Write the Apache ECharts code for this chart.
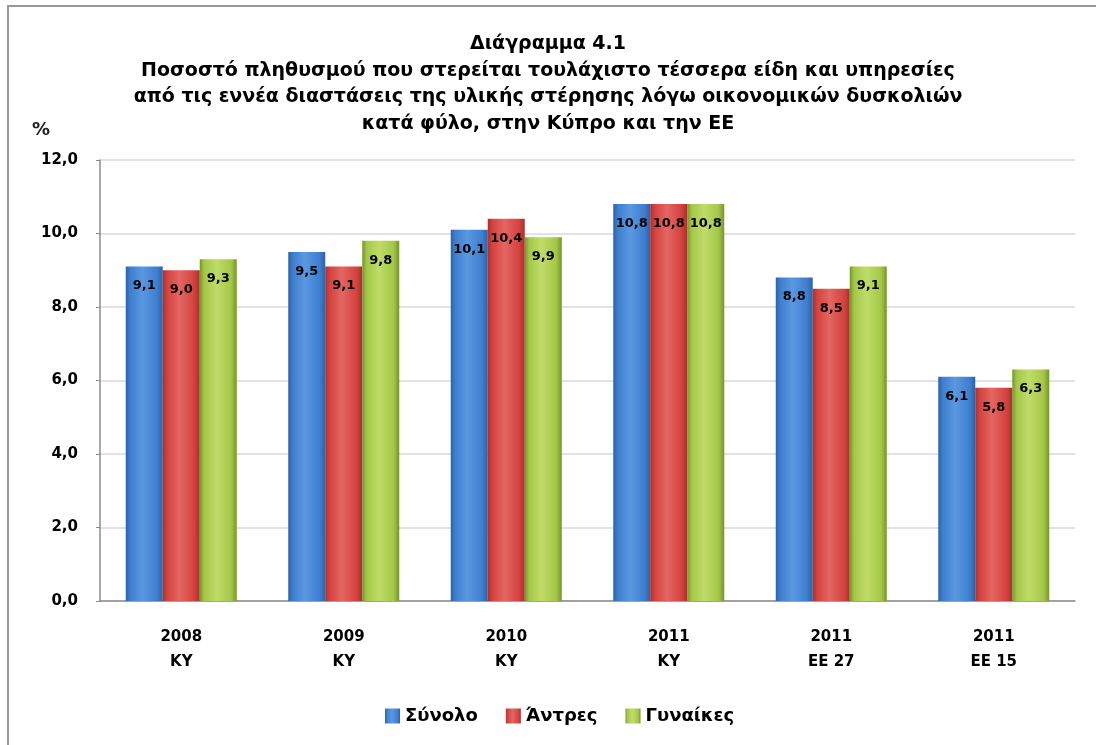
<!DOCTYPE html>
<html>
<head>
<meta charset="utf-8">
<script src="https://cdn.jsdelivr.net/npm/echarts@6/dist/echarts.min.js"></script>
<style>
  html, body { margin: 0; padding: 0; background: #fff; }
  #chart { width: 1096px; height: 745px; }
</style>
</head>
<body>
<div id="chart"></div>
<script>
// κατηγορίες (έτος / περιοχή)
var categories = ['2008\nΚΥ', '2009\nΚΥ', '2010\nΚΥ', '2011\nΚΥ', '2011\nΕΕ 27', '2011\nΕΕ 15'];
var synolo = [9.1, 9.5, 10.1, 10.8, 8.8, 6.1];
var antres = [9.0, 9.1, 10.4, 10.8, 8.5, 5.8];
var gynaikes = [9.3, 9.8, 9.9, 10.8, 9.1, 6.3];
var seriesNames = ['Σύνολο', 'Άντρες', 'Γυναίκες'];

var titleText = 'Διάγραμμα 4.1\nΠοσοστό πληθυσμού που στερείται τουλάχιστο τέσσερα είδη και υπηρεσίες\n' +
	'από τις εννέα διαστάσεις της υλικής στέρησης λόγω οικονομικών δυσκολιών\nκατά φύλο, στην Κύπρο και την ΕΕ';

// οριζόντια διαβάθμιση για εφέ κυλίνδρου
function cyl(dark, mid, light) {
	return new echarts.graphic.LinearGradient(0, 0, 1, 0, [
		{ offset: 0, color: dark },
		{ offset: 0.12, color: mid },
		{ offset: 0.45, color: light },
		{ offset: 0.85, color: mid },
		{ offset: 1, color: dark }
	]);
}

var labelStyle = {
	show: true,
	position: 'insideTop',
	distance: 13,
	color: '#000',
	fontFamily: 'DejaVu Sans',
	fontWeight: 'bold',
	fontSize: 13,
	formatter: function (p) { return p.value.toFixed(1).replace('.', ','); }
};

function makeSeries(name, data, color) {
	return {
		name: name,
		type: 'bar',
		data: data,
		barWidth: 37,
		barGap: '0%',
		itemStyle: { color: color },
		label: labelStyle
	};
}

var myChart = echarts.init(document.getElementById('chart'));
var option = {
	backgroundColor: '#fff',
	animation: false,
	color: ['#3f80d2', '#d6433f', '#a6c94a'],
	title: {
		text: titleText,
		left: 'center',
		top: 26,
		textStyle: {
			fontFamily: 'DejaVu Sans',
			fontWeight: 'bold',
			fontSize: 19,
			lineHeight: 26.5,
			color: '#000'
		}
	},
	graphic: [
		{ type: 'rect', shape: { x: 8, y: 6, width: 1200, height: 900 }, style: { fill: 'none', stroke: '#9a9a9a', lineWidth: 2 } },
		{ type: 'text', left: 32, top: 121, style: { text: '%', fontFamily: 'DejaVu Sans', fontWeight: 'bold', fontSize: 18, fill: '#222' } }
	],
	legend: {
		bottom: 15,
		left: 380,
		itemWidth: 15,
		itemHeight: 15,
		itemGap: 28,
		icon: 'rect',
		textStyle: { fontFamily: 'DejaVu Sans', fontWeight: 'bold', fontSize: 18, color: '#000' },
		data: seriesNames
	},
	grid: { left: 100, right: 21, top: 160, bottom: 144 },
	xAxis: {
		type: 'category',
		data: categories,
		axisLine: { lineStyle: { color: '#8c8c8c', width: 1.5 } },
		axisTick: { show: false },
		axisLabel: {
			margin: 24,
			lineHeight: 25,
			fontFamily: 'DejaVu Sans',
			fontWeight: 'bold',
			fontSize: 15,
			color: '#000'
		}
	},
	yAxis: {
		type: 'value',
		min: 0,
		max: 12,
		interval: 2,
		axisLine: { show: true, lineStyle: { color: '#8c8c8c', width: 1.5 } },
		axisTick: { show: true, length: 4, lineStyle: { color: '#8c8c8c' } },
		splitLine: { lineStyle: { color: '#d9d9d9', width: 1.5 } },
		axisLabel: {
			margin: 22,
			fontFamily: 'DejaVu Sans',
			fontWeight: 'bold',
			fontSize: 15,
			color: '#000',
			formatter: function (v) { return v.toFixed(1).replace('.', ','); }
		}
	},
	series: [
		makeSeries(seriesNames[0], synolo, cyl('#2c62a6', '#3d7ecf', '#5a98e0')),
		makeSeries(seriesNames[1], antres, cyl('#a8302d', '#d4423e', '#e36662')),
		makeSeries(seriesNames[2], gynaikes, cyl('#76942a', '#a4c748', '#c0dc68'))
	]
};
myChart.setOption(option);
</script>
</body>
</html>
